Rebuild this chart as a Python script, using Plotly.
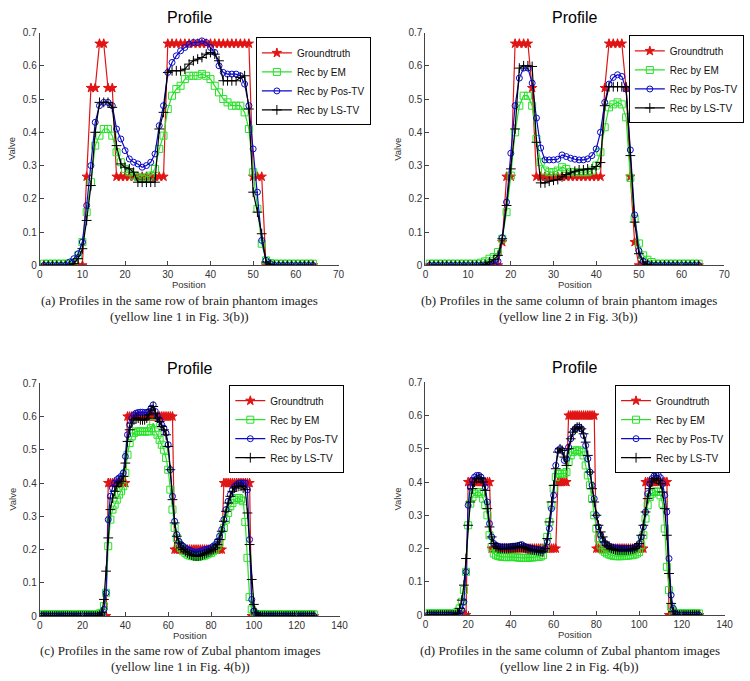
import plotly.graph_objects as go

# ---------------- data ----------------
POS_A = list(range(1, 65))
POS_C = list(range(1, 129))

GT_A = [0, 0, 0, 0, 0, 0, 0, 0, 0, 0,
        0.2667, 0.5333, 0.5333, 0.6667, 0.6667, 0.5333, 0.5333,
        0.2667, 0.2667, 0.2667, 0.2667, 0.2667, 0.2667, 0.2667, 0.2667, 0.2667, 0.2667, 0.2667, 0.2667,
        0.6667, 0.6667, 0.6667, 0.6667, 0.6667, 0.6667, 0.6667, 0.6667, 0.6667, 0.6667,
        0.6667, 0.6667, 0.6667, 0.6667, 0.6667, 0.6667, 0.6667, 0.6667, 0.6667, 0.6667,
        0.2667, 0.2667, 0.2667,
        0, 0, 0, 0, 0, 0, 0, 0, 0, 0, 0, 0]
EM_A = [0.005, 0.005, 0.005, 0.005, 0.005, 0.005, 0.006, 0.01, 0.03, 0.07,
        0.16, 0.25, 0.36, 0.39, 0.41, 0.41, 0.39, 0.34, 0.31, 0.29,
        0.28, 0.27, 0.265, 0.26, 0.265, 0.27, 0.29, 0.35, 0.39, 0.47,
        0.51, 0.53, 0.54, 0.56, 0.57, 0.57, 0.57, 0.575, 0.57, 0.56,
        0.54, 0.52, 0.50, 0.49, 0.48, 0.48, 0.48, 0.46, 0.41, 0.28,
        0.17, 0.065, 0.015, 0.007, 0.005, 0.005, 0.005, 0.005, 0.005, 0.005,
        0.005, 0.005, 0.005, 0.005]
POSTV_A = [0, 0, 0, 0, 0, 0, 0.01, 0.02, 0.035, 0.07,
           0.18, 0.30, 0.43, 0.48, 0.49, 0.49, 0.48, 0.41, 0.38, 0.345,
           0.32, 0.31, 0.305, 0.295, 0.30, 0.31, 0.335, 0.42, 0.48, 0.58,
           0.61, 0.63, 0.645, 0.655, 0.665, 0.67, 0.67, 0.675, 0.67, 0.655,
           0.64, 0.60, 0.58, 0.575, 0.575, 0.575, 0.57, 0.545, 0.48, 0.35,
           0.22, 0.075, 0.015, 0.005, 0, 0, 0, 0, 0, 0,
           0, 0, 0, 0]
LSTV_A = [0, 0, 0, 0, 0, 0, 0, 0.005, 0.02, 0.05,
          0.135, 0.24, 0.40, 0.49, 0.49, 0.49, 0.475, 0.36, 0.305, 0.295,
          0.29, 0.28, 0.25, 0.25, 0.25, 0.25, 0.25, 0.41, 0.46, 0.58,
          0.585, 0.585, 0.585, 0.59, 0.605, 0.615, 0.62, 0.625, 0.635, 0.64,
          0.635, 0.615, 0.555, 0.555, 0.555, 0.555, 0.565, 0.57, 0.47, 0.22,
          0.16, 0.095, 0.01, 0.003, 0, 0, 0, 0, 0, 0,
          0, 0, 0, 0]

GT_B = [0, 0, 0, 0, 0, 0, 0, 0, 0, 0, 0, 0, 0, 0, 0, 0, 0,
        0.07, 0.2667, 0.2667, 0.6667, 0.6667, 0.6667, 0.6667, 0.5333,
        0.2667, 0.2667, 0.2667, 0.2667, 0.2667, 0.2667, 0.2667, 0.2667,
        0.2667, 0.2667, 0.2667, 0.2667, 0.2667, 0.2667, 0.2667, 0.2667,
        0.5333, 0.6667, 0.6667, 0.6667, 0.6667, 0.5333, 0.2667, 0.07,
        0, 0, 0, 0, 0, 0, 0, 0, 0, 0, 0, 0, 0, 0, 0]
EM_B = [0.005, 0.005, 0.005, 0.005, 0.005, 0.005, 0.005, 0.005, 0.005, 0.005,
        0.005, 0.005, 0.008, 0.012, 0.02, 0.025, 0.04, 0.08, 0.16, 0.27,
        0.40, 0.48, 0.51, 0.51, 0.48, 0.38, 0.31, 0.285, 0.28, 0.28,
        0.285, 0.295, 0.29, 0.28, 0.28, 0.28, 0.28, 0.28, 0.285, 0.30,
        0.34, 0.415, 0.475, 0.484, 0.49, 0.484, 0.445, 0.263, 0.14, 0.066,
        0.03, 0.017, 0.01, 0.005, 0.005, 0.005, 0.005, 0.005, 0.005, 0.005,
        0.005, 0.005, 0.005, 0.005]
POSTV_B = [0, 0, 0, 0, 0, 0, 0, 0, 0, 0,
           0, 0, 0, 0, 0.003, 0.005, 0.012, 0.083, 0.19, 0.337,
           0.48, 0.563, 0.593, 0.593, 0.548, 0.443, 0.353, 0.317, 0.317, 0.317,
           0.319, 0.332, 0.327, 0.322, 0.319, 0.317, 0.317, 0.32, 0.33, 0.35,
           0.40, 0.49, 0.545, 0.565, 0.573, 0.568, 0.53, 0.347, 0.152, 0.044,
           0.012, 0.004, 0, 0, 0, 0, 0, 0, 0, 0,
           0, 0, 0, 0]
LSTV_B = [0, 0, 0, 0, 0, 0, 0, 0, 0, 0,
          0, 0, 0, 0.003, 0.01, 0.017, 0.03, 0.08, 0.18, 0.29,
          0.41, 0.593, 0.60, 0.60, 0.598, 0.37, 0.248, 0.248, 0.253, 0.256,
          0.258, 0.266, 0.273, 0.278, 0.283, 0.287, 0.287, 0.29, 0.29, 0.297,
          0.309, 0.48, 0.537, 0.537, 0.537, 0.537, 0.537, 0.33, 0.13, 0.035,
          0.01, 0.003, 0, 0, 0, 0, 0, 0, 0, 0,
          0, 0, 0, 0]

GT_C = [0, 0, 0, 0, 0, 0, 0, 0, 0, 0,
        0, 0, 0, 0, 0, 0, 0, 0, 0, 0,
        0, 0, 0, 0, 0, 0, 0, 0, 0, 0, 0,
        0.4, 0.4, 0.4, 0.4, 0.4, 0.4, 0.4, 0.4, 0.4,
        0.6, 0.6, 0.6, 0.6, 0.6, 0.6, 0.6, 0.6, 0.6, 0.6, 0.6,
        0.6, 0.6, 0.6, 0.6, 0.6, 0.6, 0.6, 0.6, 0.6, 0.6, 0.6,
        0.2, 0.2, 0.2, 0.2, 0.2, 0.2, 0.2, 0.2, 0.2, 0.2, 0.2, 0.2,
        0.2, 0.2, 0.2, 0.2, 0.2, 0.2, 0.2, 0.2, 0.2, 0.2, 0.2,
        0.4, 0.4, 0.4, 0.4, 0.4, 0.4, 0.4, 0.4, 0.4, 0.4, 0.4, 0.4, 0.4,
        0, 0, 0, 0, 0, 0, 0, 0, 0, 0,
        0, 0, 0, 0, 0, 0, 0, 0, 0, 0,
        0, 0, 0, 0, 0, 0, 0, 0, 0, 0]
EM_C = [0.005, 0.005, 0.005, 0.005, 0.005, 0.005, 0.005, 0.005, 0.005, 0.005,
        0.005, 0.005, 0.005, 0.005, 0.005, 0.005, 0.005, 0.005, 0.005, 0.005,
        0.005, 0.005, 0.005, 0.005, 0.005, 0.005, 0.005, 0.008, 0.01, 0.03,
        0.07, 0.21, 0.29, 0.32, 0.335, 0.35, 0.365, 0.375, 0.39, 0.43,
        0.485, 0.52, 0.54, 0.55, 0.555, 0.555, 0.555, 0.555, 0.555, 0.555,
        0.555, 0.565, 0.58, 0.555, 0.545, 0.53, 0.515, 0.5, 0.475, 0.44,
        0.38, 0.32, 0.265, 0.235, 0.215, 0.205, 0.195, 0.19, 0.185, 0.182,
        0.18, 0.18, 0.178, 0.178, 0.18, 0.18, 0.182, 0.185, 0.188, 0.19,
        0.195, 0.2, 0.21, 0.22, 0.24, 0.265, 0.29, 0.31, 0.33, 0.34,
        0.35, 0.355, 0.355, 0.35, 0.345, 0.283, 0.175, 0.057, 0.02, 0.01,
        0.005, 0.005, 0.005, 0.005, 0.005, 0.005, 0.005, 0.005, 0.005, 0.005,
        0.005, 0.005, 0.005, 0.005, 0.005, 0.005, 0.005, 0.005, 0.005, 0.005,
        0.005, 0.005, 0.005, 0.005, 0.005, 0.005, 0.005, 0.005]
POSTV_C = [0, 0, 0, 0, 0, 0, 0, 0, 0, 0,
           0, 0, 0, 0, 0, 0, 0, 0, 0, 0,
           0, 0, 0, 0, 0, 0, 0, 0, 0.005, 0.02,
           0.07, 0.29, 0.36, 0.385, 0.40, 0.41, 0.415, 0.42, 0.43, 0.48,
           0.545, 0.575, 0.595, 0.605, 0.61, 0.612, 0.613, 0.613, 0.612, 0.612,
           0.615, 0.625, 0.635, 0.615, 0.60, 0.59, 0.575, 0.565, 0.55, 0.515,
           0.44, 0.36, 0.285, 0.245, 0.225, 0.215, 0.21, 0.205, 0.2, 0.198,
           0.195, 0.193, 0.192, 0.193, 0.195, 0.197, 0.2, 0.2, 0.203, 0.205,
           0.21, 0.215, 0.225, 0.24, 0.26, 0.29, 0.32, 0.345, 0.365, 0.38,
           0.39, 0.395, 0.4, 0.4, 0.4, 0.40, 0.38, 0.23, 0.05, 0.015,
           0.005, 0, 0, 0, 0, 0, 0, 0, 0, 0,
           0, 0, 0, 0, 0, 0, 0, 0, 0, 0,
           0, 0, 0, 0, 0, 0, 0, 0]
LSTV_C = [0, 0, 0, 0, 0, 0, 0, 0, 0, 0,
          0, 0, 0, 0, 0, 0, 0, 0, 0, 0,
          0, 0, 0, 0, 0, 0, 0, 0.003, 0.01, 0.05,
          0.135, 0.235, 0.32, 0.355, 0.375, 0.39, 0.4, 0.405, 0.42, 0.46,
          0.525, 0.56, 0.58, 0.59, 0.595, 0.595, 0.59, 0.59, 0.59, 0.595,
          0.605, 0.62, 0.63, 0.61, 0.595, 0.585, 0.57, 0.56, 0.545, 0.51,
          0.44, 0.35, 0.28, 0.24, 0.22, 0.205, 0.2, 0.195, 0.19, 0.186,
          0.183, 0.181, 0.18, 0.18, 0.182, 0.184, 0.187, 0.19, 0.193, 0.196,
          0.2, 0.205, 0.215, 0.23, 0.255, 0.285, 0.315, 0.34, 0.36, 0.375,
          0.385, 0.39, 0.39, 0.39, 0.385, 0.38, 0.31, 0.215, 0.11, 0.035,
          0.01, 0.003, 0, 0, 0, 0, 0, 0, 0, 0,
          0, 0, 0, 0, 0, 0, 0, 0, 0, 0,
          0, 0, 0, 0, 0, 0, 0, 0]

GT_D = [0, 0, 0, 0, 0, 0, 0, 0, 0, 0,
        0, 0, 0, 0, 0, 0, 0, 0, 0,
        0.4, 0.4, 0.4, 0.4, 0.4, 0.4, 0.4, 0.4, 0.4, 0.4, 0.4,
        0.2, 0.2, 0.2, 0.2, 0.2, 0.2, 0.2, 0.2, 0.2, 0.2,
        0.2, 0.2, 0.2, 0.2, 0.2, 0.2, 0.2, 0.2, 0.2, 0.2,
        0.2, 0.2, 0.2, 0.2, 0.2, 0.2, 0.2, 0.2, 0.2, 0.2, 0.2,
        0.4, 0.4, 0.4, 0.4, 0.4,
        0.6, 0.6, 0.6, 0.6, 0.6, 0.6, 0.6, 0.6, 0.6, 0.6, 0.6, 0.6, 0.6,
        0.2, 0.2, 0.2, 0.2, 0.2, 0.2, 0.2, 0.2, 0.2, 0.2, 0.2, 0.2,
        0.2, 0.2, 0.2, 0.2, 0.2, 0.2, 0.2, 0.2, 0.2, 0.2, 0.2,
        0.4, 0.4, 0.4, 0.4, 0.4, 0.4, 0.4, 0.4, 0.4, 0.4, 0.4,
        0, 0, 0, 0, 0, 0, 0, 0, 0, 0, 0, 0, 0, 0, 0]
EM_D = [0.005, 0.005, 0.005, 0.005, 0.005, 0.005, 0.005, 0.005, 0.005, 0.005,
        0.005, 0.005, 0.005, 0.005, 0.01, 0.02, 0.04, 0.075, 0.13, 0.27,
        0.335, 0.355, 0.365, 0.37, 0.37, 0.365, 0.35, 0.33, 0.30, 0.24,
        0.205, 0.185, 0.18, 0.178, 0.176, 0.175, 0.175, 0.174, 0.174, 0.175,
        0.175, 0.174, 0.173, 0.173, 0.172, 0.172, 0.172, 0.172, 0.173, 0.173,
        0.174, 0.175, 0.175, 0.176, 0.18, 0.2, 0.235, 0.28, 0.33, 0.38,
        0.415, 0.425, 0.425, 0.425, 0.425, 0.43, 0.46, 0.48, 0.49, 0.495,
        0.495, 0.495, 0.49, 0.48, 0.45, 0.42, 0.39, 0.35, 0.30, 0.26,
        0.23, 0.21, 0.195, 0.19, 0.185, 0.182, 0.18, 0.178, 0.177, 0.177,
        0.177, 0.177, 0.178, 0.178, 0.179, 0.18, 0.18, 0.182, 0.185, 0.19,
        0.21, 0.24, 0.29, 0.33, 0.355, 0.365, 0.37, 0.372, 0.37, 0.36,
        0.335, 0.26, 0.145, 0.075, 0.025, 0.01, 0.005, 0.005, 0.005, 0.005,
        0.005, 0.005, 0.005, 0.005, 0.005, 0.005, 0.005, 0.005]
POSTV_D = [0, 0, 0, 0, 0, 0, 0, 0, 0, 0,
           0, 0, 0, 0, 0, 0.005, 0.015, 0.04, 0.13, 0.33,
           0.385, 0.405, 0.415, 0.42, 0.42, 0.415, 0.405, 0.385, 0.34, 0.275,
           0.235, 0.215, 0.21, 0.207, 0.205, 0.205, 0.205, 0.205, 0.205, 0.206,
           0.207, 0.207, 0.208, 0.21, 0.212, 0.208, 0.205, 0.203, 0.2, 0.2,
           0.198, 0.197, 0.196, 0.195, 0.195, 0.2, 0.22, 0.26, 0.32, 0.36,
           0.45, 0.495, 0.5, 0.495, 0.465, 0.47, 0.505, 0.53, 0.55, 0.56,
           0.565, 0.565, 0.56, 0.54, 0.51, 0.47, 0.43, 0.39, 0.35, 0.30,
           0.265, 0.24, 0.225, 0.215, 0.21, 0.207, 0.205, 0.203, 0.202, 0.202,
           0.2, 0.2, 0.2, 0.2, 0.2, 0.2, 0.201, 0.203, 0.207, 0.215,
           0.235, 0.265, 0.31, 0.365, 0.395, 0.41, 0.418, 0.42, 0.42, 0.413,
           0.395, 0.36, 0.31, 0.17, 0.06, 0.02, 0.005, 0, 0, 0,
           0, 0, 0, 0, 0, 0, 0, 0]
LSTV_D = [0, 0, 0, 0, 0, 0, 0, 0, 0, 0,
          0, 0, 0, 0, 0.005, 0.02, 0.045, 0.09, 0.17, 0.27,
          0.34, 0.38, 0.40, 0.41, 0.412, 0.41, 0.40, 0.375, 0.32, 0.265,
          0.235, 0.215, 0.205, 0.2, 0.2, 0.2, 0.2, 0.2, 0.2, 0.201,
          0.202, 0.203, 0.204, 0.205, 0.205, 0.203, 0.2, 0.198, 0.197, 0.196,
          0.195, 0.194, 0.193, 0.192, 0.19, 0.2, 0.23, 0.28, 0.34, 0.39,
          0.44, 0.49, 0.50, 0.495, 0.475, 0.45, 0.50, 0.53, 0.55, 0.56,
          0.565, 0.565, 0.56, 0.545, 0.52, 0.48, 0.43, 0.38, 0.34, 0.30,
          0.27, 0.25, 0.235, 0.22, 0.21, 0.205, 0.2, 0.198, 0.196, 0.195,
          0.195, 0.195, 0.195, 0.195, 0.196, 0.197, 0.198, 0.2, 0.205, 0.215,
          0.24, 0.27, 0.31, 0.35, 0.38, 0.40, 0.41, 0.41, 0.405, 0.395,
          0.37, 0.32, 0.24, 0.125, 0.035, 0.01, 0, 0, 0, 0,
          0, 0, 0, 0, 0, 0, 0, 0]

SERIES_NAMES = ["Groundtruth", "Rec by EM", "Rec by Pos-TV", "Rec by LS-TV"]
CAPTIONS = [
    ("(a) Profiles in the same row of brain phantom images", "(yellow line 1 in Fig. 3(b))"),
    ("(b) Profiles in the same column of brain phantom images", "(yellow line 2 in Fig. 3(b))"),
    ("(c) Profiles in the same row of Zubal phantom images", "(yellow line 1 in Fig. 4(b))"),
    ("(d) Profiles in the same column of Zubal phantom images", "(yellow line 2 in Fig. 4(b))"),
]

# ---------------- figure ----------------
W, H = 750, 681
SANS = "Liberation Sans, Arial, sans-serif"
SERIF = "Liberation Serif, Times New Roman, serif"

panels = [
    dict(x=POS_A, ys=[GT_A, EM_A, POSTV_A, LSTV_A], xmax=70, dtick=10,
         px=(37.3, 341.0), py=(27.0, 264.0), leg=(257, 32), cap=(179, 300, 316)),
    dict(x=POS_A, ys=[GT_B, EM_B, POSTV_B, LSTV_B], xmax=70, dtick=10,
         px=(429.3, 733.0), py=(27.0, 264.0), leg=(636, 30), cap=(575, 300, 316)),
    dict(x=POS_C, ys=[GT_C, EM_C, POSTV_C, LSTV_C], xmax=140, dtick=20,
         px=(37.3, 342.0), py=(384.0, 621.0), leg=(230, 386), cap=(180, 656, 672)),
    dict(x=POS_C, ys=[GT_D, EM_D, POSTV_D, LSTV_D], xmax=140, dtick=20,
         px=(429.3, 733.3), py=(383.0, 620.0), leg=(622, 386), cap=(576, 656, 672)),
]

styles = [
    dict(color="rgb(225,20,20)", symbol="star", size=7, lw=1.2),
    dict(color="rgb(40,225,40)", symbol="square-open", size=7, lw=1.2),
    dict(color="rgb(10,10,200)", symbol="circle-open", size=6, lw=1.2),
    dict(color="rgb(0,0,0)", symbol="cross-thin", size=7, lw=1.2),
]

fig = go.Figure()
layout = dict(width=W, height=H, margin=dict(l=0, r=0, t=0, b=0),
              paper_bgcolor="white", plot_bgcolor="white",
              font=dict(family=SANS, size=10, color="#333"))
annotations = []

for i, p in enumerate(panels):
    sfx = "" if i == 0 else str(i + 1)
    legname = "legend" if i == 0 else f"legend{i + 1}"
    for name, y, st in zip(SERIES_NAMES, p["ys"], styles):
        mk = dict(symbol=st["symbol"], size=st["size"], color=st["color"],
                  line=dict(color=st["color"], width=1))
        fig.add_trace(go.Scatter(
            x=p["x"], y=y, name=name, mode="lines+markers",
            line=dict(color=st["color"], width=st["lw"]),
            marker=mk, xaxis="x" + sfx, yaxis="y" + sfx, legend=legname))
    x0, x1 = p["px"]
    y0, y1 = p["py"]
    axcommon = dict(showgrid=False, zeroline=False, showline=True,
                    linecolor="#444", linewidth=1, ticks="inside", ticklen=4,
                    tickcolor="#444", tickfont=dict(family=SANS, size=10, color="#333"))
    layout["xaxis" + sfx] = dict(axcommon, domain=[x0 / W, x1 / W], range=[0, p["xmax"]],
                                 dtick=p["dtick"], tick0=0, anchor="y" + sfx)
    layout["yaxis" + sfx] = dict(axcommon, domain=[1 - y1 / H, 1 - y0 / H], range=[0, 0.7],
                                 dtick=0.1, tick0=0, anchor="x" + sfx)
    lx, ly = p["leg"]
    layout[legname] = dict(x=lx / W, y=1 - ly / H, xanchor="left", yanchor="top",
                           bgcolor="white", bordercolor="black", borderwidth=1,
                           font=dict(family=SANS, size=10, color="#111"),
                           tracegroupgap=0, itemwidth=30)
    cx = (x0 + x1) / 2
    annotations.append(dict(text="Profile", x=cx / W, y=1 - (y0 - 15) / H, xref="paper", yref="paper",
                            showarrow=False, font=dict(family=SANS, size=16, color="black"),
                            xanchor="center", yanchor="middle"))
    annotations.append(dict(text="Position", x=cx / W, y=1 - (y1 + 20) / H, xref="paper", yref="paper",
                            showarrow=False, font=dict(family=SANS, size=9.5, color="#333"),
                            xanchor="center", yanchor="middle"))
    annotations.append(dict(text="Valve", x=(x0 - 28) / W, y=1 - ((y0 + y1) / 2) / H,
                            xref="paper", yref="paper", textangle=-90,
                            showarrow=False, font=dict(family=SANS, size=9.5, color="#333"),
                            xanchor="center", yanchor="middle"))
    ccx, cy1, cy2 = p["cap"]
    c1, c2 = CAPTIONS[i]
    annotations.append(dict(text=c1, x=ccx / W, y=1 - cy1 / H, xref="paper", yref="paper",
                            showarrow=False, font=dict(family=SERIF, size=13, color="#222"),
                            xanchor="center", yanchor="middle"))
    annotations.append(dict(text=c2, x=ccx / W, y=1 - cy2 / H, xref="paper", yref="paper",
                            showarrow=False, font=dict(family=SERIF, size=13, color="#222"),
                            xanchor="center", yanchor="middle"))

layout["annotations"] = annotations
layout["showlegend"] = True
fig.update_layout(**layout)
fig.write_html("out.html", config={"displayModeBar": False},
               post_script="document.body.style.margin='0px';document.body.style.padding='0px';")
